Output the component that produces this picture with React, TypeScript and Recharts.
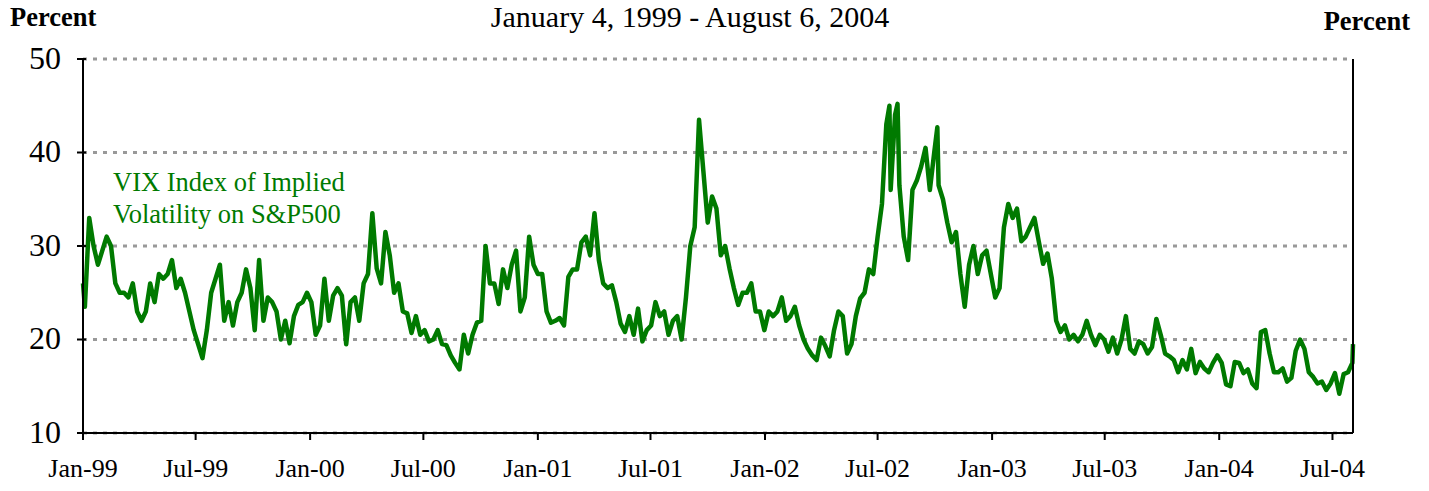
import React from 'react';
import { LineChart, Line, XAxis, YAxis, CartesianGrid } from 'recharts';

const TITLE = 'January 4, 1999 - August 6, 2004';
const Y_UNIT_LABEL = 'Percent';
const SERIES_LABEL = ['VIX Index of Implied', 'Volatility on S&P500'];

const Y_TICKS = [10, 20, 30, 40, 50];
const X_TICK_DATES = [
  '1999-01-04', '1999-07-04', '2000-01-04', '2000-07-04', '2001-01-04', '2001-07-04',
  '2002-01-04', '2002-07-04', '2003-01-04', '2003-07-04', '2004-01-04', '2004-07-04',
];
const X_TICK_LABELS = [
  'Jan-99', 'Jul-99', 'Jan-00', 'Jul-00', 'Jan-01', 'Jul-01',
  'Jan-02', 'Jul-02', 'Jan-03', 'Jul-03', 'Jan-04', 'Jul-04',
];

const DOMAIN_START = '1999-01-04';
const DOMAIN_END = '2004-08-06';

// first and last trading days
const EDGE_DATES = ['1999-01-04', '2004-08-06'];
const EDGE_VALUES = [26, 19.5];

// weekly readings (Thursdays), starting 1999-01-07
const WEEKLY_START = '1999-01-07';
const vix1999 = [23.5, 33, 30, 28, 29.5, 31, 30, 26, 25, 25, 24.5, 26, 23, 22, 23, 26, 24, 27, 26.5, 27, 28.5, 25.5, 26.5, 25, 23, 21, 19.5, 18, 21, 25, 26.5, 28, 22, 24, 21.5, 24, 25, 27.5, 25.5, 21, 28.5, 22, 24.5, 24, 23, 20, 22, 19.6, 22.5, 23.7, 24, 25];
const vix2000 = [24, 20.5, 21.5, 26.5, 22, 24.7, 25.5, 24.7, 19.5, 24, 24.5, 22, 26, 27, 33.5, 27.6, 26, 31.5, 29, 25, 26, 23, 22.8, 20.7, 22.5, 20.5, 21, 19.8, 20, 21, 19.5, 19.4, 18.3, 17.5, 16.8, 20.5, 18.5, 20.5, 21.8, 22, 30, 26, 26, 23.8, 27.5, 25.5, 28, 29.5, 23, 24.5, 31, 28];
const vix2001 = [27, 27, 23, 21.8, 22, 22.3, 21.5, 26.7, 27.5, 27.5, 30.4, 31, 29, 33.5, 28.5, 26, 25.5, 25.8, 24, 21.7, 20.8, 22.5, 20.5, 23.3, 19.8, 21, 21.5, 24, 22.5, 23, 20.5, 22, 22.5, 20, 24.5, 30, 32, 43.5, 38, 32.5, 35.3, 34, 29, 30, 27.6, 25.5, 23.7, 25, 25, 26, 23, 23];
const vix2002 = [21, 23, 22.5, 23, 24.5, 22, 22.5, 23.5, 21.5, 20, 19, 18.3, 17.8, 20.2, 19.3, 18.2, 21, 23, 22.5, 18.5, 19.5, 22.5, 24.4, 25, 27.5, 27, 31, 34.5, 43, 36, 44, 36.5, 31, 28.5, 36, 37, 38.5, 40.5, 36, 40, 36.5, 35, 32.5, 30.4, 31.5, 27, 23.5, 28, 30, 27, 29, 29.5];
const vix2003 = [27, 24.5, 25.5, 32, 34.5, 33, 34, 30.5, 31, 32, 33, 30.5, 28.1, 29.2, 26.5, 22, 20.8, 21.5, 20, 20.5, 19.8, 20.5, 22, 20.5, 19.4, 20.5, 20, 18.7, 20.2, 18.5, 20, 22.5, 19, 18.5, 19.8, 19.5, 18.5, 19.2, 22.2, 20.5, 18.5, 18.2, 17.8, 16.5, 17.8, 16.8, 19, 16.4, 17.6, 16.9, 16.5, 17.5];
const vix2004 = [18.3, 17.5, 15.2, 15, 17.6, 17.5, 16.4, 16.8, 15.3, 14.8, 20.8, 21, 18.5, 16.5, 16.5, 16.9, 15.5, 15.9, 18.8, 20, 19, 16.5, 16, 15.3, 15.5, 14.6, 15.3, 16.4, 14.2, 16.3, 16.5, 17.5];

// intra-week spikes
const SPIKE_DATES = ['2002-07-23', '2002-08-05', '2002-10-08'];
const SPIKE_VALUES = [45, 45.2, 42.7];

const DAY = 86400000;
const toTime = (s: string) => Date.parse(s + 'T00:00:00Z');

const weekly = [...vix1999, ...vix2000, ...vix2001, ...vix2002, ...vix2003, ...vix2004];
const rows = [
  ...EDGE_DATES.map((d, i) => ({ t: toTime(d), v: EDGE_VALUES[i] })),
  ...weekly.map((v, i) => ({ t: toTime(WEEKLY_START) + i * 7 * DAY, v })),
  ...SPIKE_DATES.map((d, i) => ({ t: toTime(d), v: SPIKE_VALUES[i] })),
].sort((a, b) => a.t - b.t);

const xTicks = X_TICK_DATES.map(toTime);
const xLabel = (t: number) => {
  const i = xTicks.indexOf(t);
  return i >= 0 ? X_TICK_LABELS[i] : '';
};

const FONT = "'Liberation Serif', 'Times New Roman', serif";
const GREEN = '#007a00';

const LeftTick = (props: any) => {
  const { x, y, payload } = props;
  const axisX = x + 16 + 6;
  return (
    <g>
      <line x1={axisX - 6} x2={axisX + 3} y1={y} y2={y} stroke="#000" strokeWidth={2} />
      <text x={x} y={y} dy="0.3em" textAnchor="end" fontSize={32} fontFamily={FONT} fill="#000">
        {payload.value}
      </text>
    </g>
  );
};

const RightTick = (props: any) => {
  const { x, y, payload } = props;
  const axisX = x - 18 - 7;
  return (
    <g>
      <line x1={axisX - 10} x2={axisX + 7} y1={y} y2={y} stroke="#000" strokeWidth={2} />
      <text x={x} y={y} dy="0.3em" textAnchor="start" fontSize={32} fontFamily={FONT} fill="#000">
        {payload.value}
      </text>
    </g>
  );
};

export default function App() {
  return (
    <div style={{ position: 'absolute', left: 0, top: 0, width: 1429, height: 491, background: '#fff' }}>
      <LineChart
        width={1429}
        height={491}
        data={rows}
        margin={{ top: 59, right: 16, bottom: 18, left: 23 }}
      >
        <CartesianGrid
          yAxisId="left"
          vertical={false}
          stroke="#999999"
          strokeWidth={3}
          strokeDasharray="4 6"
        />
        <XAxis
          dataKey="t"
          type="number"
          scale="linear"
          domain={[toTime(DOMAIN_START), toTime(DOMAIN_END)]}
          ticks={xTicks}
          interval={0}
          tickFormatter={xLabel}
          height={40}
          tickSize={7}
          tickMargin={19}
          axisLine={{ stroke: '#000', strokeWidth: 2 }}
          tickLine={{ stroke: '#000', strokeWidth: 2 }}
          tick={{ fill: '#000', fontSize: 26, fontFamily: FONT }}
        />
        <YAxis
          yAxisId="left"
          orientation="left"
          domain={[10, 50]}
          ticks={Y_TICKS}
          interval={0}
          width={60}
          tickSize={6}
          tickMargin={16}
          axisLine={{ stroke: '#000', strokeWidth: 2 }}
          tickLine={false}
          tick={<LeftTick />}
        />
        <YAxis
          yAxisId="right"
          orientation="right"
          domain={[10, 50]}
          ticks={Y_TICKS}
          interval={0}
          width={60}
          tickSize={7}
          tickMargin={18}
          axisLine={{ stroke: '#000', strokeWidth: 2 }}
          tickLine={false}
          tick={<RightTick />}
        />
        <Line
          yAxisId="left"
          dataKey="v"
          type="linear"
          stroke={GREEN}
          strokeWidth={4.5}
          strokeLinejoin="round"
          dot={false}
          activeDot={false}
          isAnimationActive={false}
        />
      </LineChart>
      <svg
        width={1429}
        height={491}
        style={{ position: 'absolute', left: 0, top: 0, pointerEvents: 'none' }}
      >
        <text x={690} y={27} textAnchor="middle" fontSize={30} fontFamily={FONT} fill="#000">
          {TITLE}
        </text>
        <text x={10} y={26} fontSize={26.5} fontWeight="bold" fontFamily={FONT} fill="#000">
          {Y_UNIT_LABEL}
        </text>
        <text x={1410} y={30} textAnchor="end" fontSize={26.5} fontWeight="bold" fontFamily={FONT} fill="#000">
          {Y_UNIT_LABEL}
        </text>
        <text x={113} y={191} fontSize={26.5} fontFamily={FONT} fill={GREEN}>
          {SERIES_LABEL[0]}
        </text>
        <text x={113} y={223} fontSize={26.5} fontFamily={FONT} fill={GREEN}>
          {SERIES_LABEL[1]}
        </text>
      </svg>
    </div>
  );
}
